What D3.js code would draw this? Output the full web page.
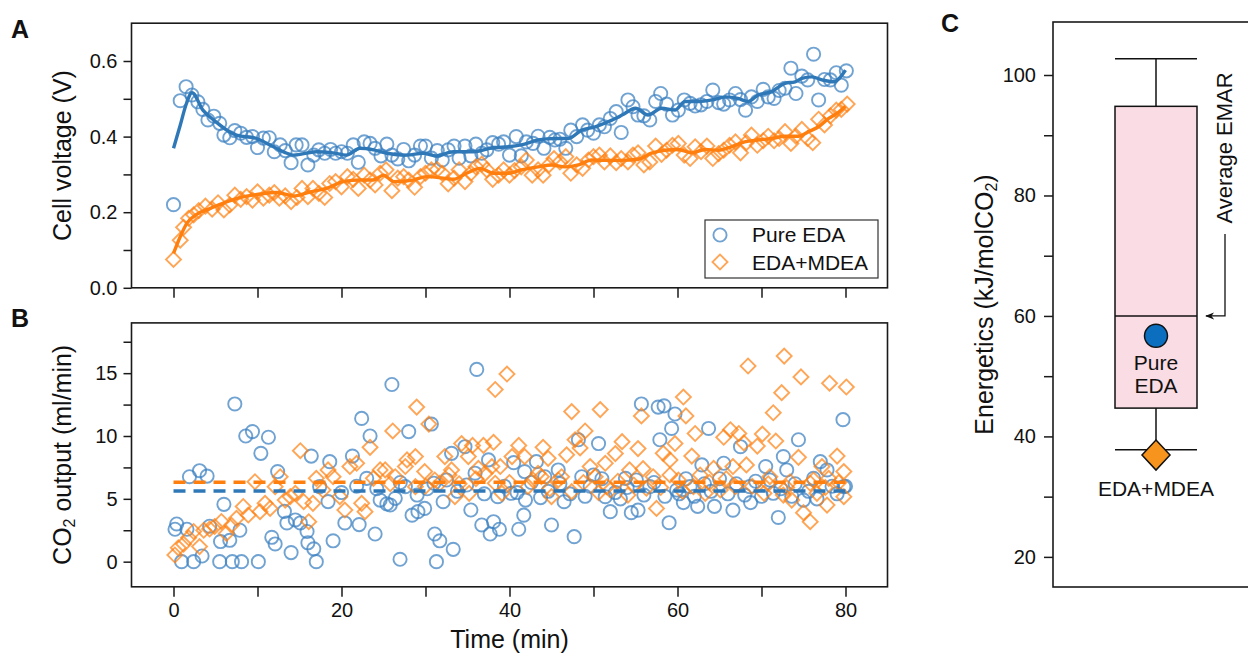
<!DOCTYPE html>
<html><head><meta charset="utf-8">
<script src="https://cdn.jsdelivr.net/npm/d3@7"></script>
<style>body{margin:0;background:#fff}svg{font-family:"Liberation Sans",Arial,sans-serif}</style>
</head><body><svg id="c" width="1248" height="656"></svg>
<script>
// ---------- DATA ----------
const timeTickValues = [0,10,20,30,40,50,60,70,80];
const timeTickLabels = ["0","","20","","40","","60","","80"];
const voltTickValues = [0,0.1,0.2,0.3,0.4,0.5,0.6];
const voltTickLabels = ["0.0","","0.2","","0.4","","0.6"];
const co2TickValues = [0,2.5,5,7.5,10,12.5,15,17.5];
const co2TickLabels = ["0","","5","","10","","15",""];
const energyTickValues = [20,30,40,50,60,70,80,90,100];
const energyTickLabels = ["20","","40","","60","","80","","100"];
const seriesNames = ["Pure EDA","EDA+MDEA"];

// Panel A: cell voltage points [time, V]
const voltEDA = [[0,0.22],[0.8,0.495],[1.5,0.532],[2.2,0.51],[2.9,0.492],[3.5,0.472],[4.1,0.444],[4.8,0.454],[5.5,0.435],[6.0,0.404],[6.7,0.397],[7.3,0.416],[8.0,0.409],[8.7,0.398],[9.4,0.40],[10.0,0.371],[10.7,0.396],[11.4,0.397],[12.0,0.36],[12.7,0.378],[13.3,0.363],[14.0,0.331],[14.6,0.378],[15.3,0.378],[16.0,0.325],[16.7,0.351],[17.3,0.365],[18.0,0.356],[18.7,0.366],[19.3,0.356],[20.0,0.36],[20.7,0.356],[21.4,0.378],[22.0,0.332],[22.7,0.386],[23.4,0.382],[24.0,0.369],[24.7,0.349],[25.4,0.38],[26.0,0.351],[26.7,0.341],[27.4,0.366],[28.0,0.336],[28.7,0.351],[29.4,0.375],[30.0,0.375],[30.7,0.343],[31.4,0.363],[32.0,0.338],[32.7,0.365],[33.4,0.375],[34.0,0.343],[34.7,0.375],[35.4,0.349],[36.0,0.38],[36.7,0.356],[37.3,0.365],[38.0,0.384],[38.7,0.38],[39.3,0.386],[40.0,0.351],[40.8,0.40],[41.4,0.349],[42.0,0.386],[42.8,0.382],[43.4,0.401],[44.1,0.369],[44.8,0.398],[45.4,0.391],[46.0,0.393],[46.7,0.369],[47.3,0.417],[48.0,0.40],[48.7,0.431],[49.3,0.417],[50.0,0.409],[50.7,0.431],[51.3,0.426],[52.0,0.448],[52.7,0.466],[53.3,0.411],[54.1,0.497],[54.7,0.479],[55.3,0.457],[56.0,0.455],[56.7,0.444],[57.4,0.493],[58.0,0.514],[58.7,0.486],[59.4,0.457],[60.1,0.47],[60.8,0.497],[61.5,0.488],[62.1,0.481],[62.8,0.484],[63.5,0.493],[64.2,0.523],[64.9,0.49],[65.5,0.486],[66.2,0.497],[66.9,0.514],[67.5,0.498],[68.1,0.47],[68.8,0.505],[69.5,0.493],[70.2,0.525],[70.8,0.505],[71.5,0.501],[72.1,0.522],[72.8,0.528],[73.5,0.581],[74.1,0.514],[74.8,0.56],[75.5,0.55],[76.2,0.618],[76.8,0.497],[77.5,0.551],[78.2,0.55],[78.9,0.569],[79.5,0.536],[80.1,0.574]];
const voltMDEA = [[0,0.075],[0.8,0.126],[1.2,0.16],[1.8,0.184],[2.4,0.193],[3.0,0.204],[3.8,0.216],[4.6,0.208],[5.3,0.225],[6.0,0.206],[6.7,0.219],[7.3,0.245],[8.0,0.234],[8.7,0.241],[9.4,0.232],[10.0,0.254],[10.7,0.237],[11.4,0.245],[12.0,0.252],[12.6,0.237],[13.3,0.243],[14.0,0.228],[14.7,0.239],[15.3,0.263],[16.0,0.241],[16.6,0.263],[17.3,0.25],[18.0,0.239],[18.6,0.276],[19.3,0.281],[20.0,0.267],[20.7,0.294],[21.4,0.287],[22.0,0.263],[22.7,0.298],[23.4,0.285],[24.0,0.272],[24.6,0.303],[25.3,0.312],[26.0,0.257],[26.7,0.29],[27.4,0.294],[28.0,0.285],[28.7,0.266],[29.4,0.294],[30.0,0.303],[30.7,0.312],[31.4,0.313],[32.0,0.303],[32.7,0.275],[33.4,0.29],[34.0,0.312],[34.7,0.281],[35.4,0.303],[36.0,0.32],[36.7,0.327],[37.3,0.312],[38.0,0.287],[38.7,0.298],[39.3,0.312],[40.0,0.298],[40.6,0.31],[41.4,0.32],[42.0,0.338],[42.7,0.298],[43.4,0.312],[44.0,0.298],[44.7,0.325],[45.3,0.342],[46.0,0.333],[46.7,0.347],[47.3,0.303],[48.0,0.325],[48.7,0.316],[49.4,0.338],[50.0,0.347],[50.7,0.351],[51.3,0.333],[52.0,0.349],[52.7,0.331],[53.3,0.342],[54.1,0.333],[54.7,0.351],[55.3,0.357],[56.0,0.325],[56.7,0.333],[57.4,0.375],[58.1,0.353],[58.7,0.364],[59.4,0.377],[60.1,0.382],[60.8,0.351],[61.5,0.342],[62.1,0.373],[62.8,0.36],[63.5,0.375],[64.2,0.342],[64.9,0.355],[65.5,0.364],[66.2,0.377],[66.9,0.386],[67.5,0.357],[68.2,0.384],[68.8,0.404],[69.5,0.377],[70.2,0.389],[70.8,0.401],[71.5,0.389],[72.1,0.395],[72.8,0.413],[73.5,0.382],[74.1,0.401],[74.8,0.419],[75.5,0.395],[76.1,0.384],[76.8,0.446],[77.5,0.431],[78.2,0.455],[78.9,0.47],[79.5,0.472],[80.2,0.486]];
// Panel A: smoothed trend lines [time, V]
const trendEDA = [[0,0.369],[0.8,0.43],[1.5,0.485],[2.2,0.516],[3.5,0.47],[5,0.44],[6.5,0.415],[7.5,0.404],[9.9,0.395],[11.9,0.373],[13.5,0.356],[14.3,0.351],[17.0,0.36],[19.0,0.357],[20.6,0.351],[22.2,0.369],[23.8,0.365],[25.4,0.356],[27.8,0.351],[29.7,0.356],[31.3,0.349],[33.3,0.36],[35.7,0.36],[38.1,0.371],[39.9,0.373],[41.4,0.378],[43.4,0.391],[45.4,0.395],[47.0,0.395],[48.6,0.417],[50.2,0.426],[51.8,0.44],[53.4,0.457],[55.0,0.475],[56.5,0.457],[58.1,0.475],[59.7,0.47],[60.9,0.493],[62.5,0.493],[64.1,0.497],[65.7,0.505],[67.2,0.501],[68.4,0.493],[69.6,0.51],[71.2,0.519],[72.8,0.541],[74.0,0.545],[74.8,0.554],[76.0,0.558],[77.2,0.55],[78.6,0.545],[80.0,0.576]];
const trendMDEA = [[0,0.091],[0.8,0.135],[1.6,0.171],[2.8,0.195],[4.4,0.21],[6.4,0.228],[8.4,0.241],[10.3,0.248],[12.3,0.252],[14.3,0.243],[16.3,0.254],[18.2,0.263],[20.2,0.281],[22.2,0.285],[23.8,0.285],[25.0,0.298],[26.2,0.281],[28.5,0.285],[30.1,0.294],[32.1,0.29],[33.3,0.287],[34.9,0.303],[36.5,0.316],[38.1,0.303],[39.9,0.303],[41.4,0.312],[43.4,0.32],[45.0,0.325],[46.6,0.32],[48.2,0.325],[49.8,0.338],[51.3,0.337],[53.3,0.337],[55.3,0.34],[56.9,0.356],[58.5,0.364],[60.1,0.366],[61.7,0.357],[63.3,0.366],[64.9,0.364],[66.4,0.373],[68.0,0.386],[69.6,0.391],[71.2,0.395],[72.8,0.401],[74.4,0.401],[75.6,0.413],[76.8,0.426],[78.0,0.448],[79.2,0.465],[80.0,0.48]];

// Panel B: CO2 output points [time, ml/min]
const co2EDA = [[0.18,2.58],[0.38,3.0],[0.97,0],[1.6,2.58],[1.9,6.76],[2.4,0],[3.1,7.24],[3.4,0.45],[4.0,6.81],[4.3,2.82],[5.5,0],[5.6,1.6],[6.0,4.56],[6.7,1.7],[7.0,0],[7.3,12.55],[7.9,2.5],[8.1,0],[8.6,10.0],[9.4,10.35],[10.1,0],[10.4,8.62],[11.3,9.9],[11.7,1.94],[12.1,1.41],[12.4,7.17],[13.2,4.0],[13.5,3.08],[14.0,0.72],[14.5,3.32],[15.1,3.08],[15.9,2.4],[16.0,1.5],[16.4,8.4],[16.7,1.02],[17.0,0],[17.4,5.97],[18.4,4.78],[18.6,7.96],[19.0,1.66],[20.0,5.5],[20.4,3.08],[21.3,8.4],[21.8,6.0],[22.1,2.95],[22.4,11.4],[23.0,6.63],[23.4,10.0],[24.0,2.2],[24.2,5.8],[24.6,4.9],[25.4,4.6],[25.8,4.51],[26.0,14.1],[26.4,5.04],[26.97,0.19],[27.0,6.3],[27.6,5.97],[28.0,10.35],[28.4,3.7],[29.0,5.3],[29.1,3.98],[29.9,4.24],[30.2,5.8],[30.7,10.95],[31.0,6.24],[31.1,2.2],[31.3,0],[31.7,1.66],[32.1,4.77],[32.5,6.5],[33.1,8.62],[33.3,0.98],[33.8,5.6],[34.7,9.15],[34.9,6.1],[35.4,4.11],[35.9,7.04],[36.1,15.3],[36.7,2.92],[37.0,5.4],[37.5,8.1],[37.7,2.2],[38.1,3.18],[38.6,5.17],[38.8,2.58],[39.4,6.0],[40.2,5.44],[40.5,7.88],[40.9,5.5],[41.1,2.58],[41.7,3.7],[41.8,7.17],[41.9,4.9],[42.6,6.3],[43.2,7.96],[43.7,5.1],[44.2,6.76],[44.6,5.6],[45.0,2.92],[45.8,7.3],[46.0,6.2],[46.5,4.77],[47.2,5.4],[47.7,1.99],[48.2,9.7],[48.6,6.76],[49.0,5.2],[49.6,6.0],[50.0,6.9],[50.6,9.4],[51.0,6.6],[51.4,5.17],[52.0,3.98],[52.6,5.5],[53.2,5.0],[53.8,6.63],[54.0,5.9],[54.5,3.9],[55.1,6.5],[55.3,4.1],[55.7,12.55],[56.0,5.3],[56.7,5.97],[57.2,6.3],[57.7,12.3],[57.9,9.7],[58.4,12.4],[58.5,5.2],[59.0,3.1],[59.3,10.6],[59.7,11.75],[59.9,5.7],[60.2,5.4],[60.7,4.7],[61.0,6.6],[61.5,5.97],[62.0,5.2],[62.4,4.4],[62.9,7.7],[63.2,6.2],[63.7,10.6],[64.0,5.6],[64.4,4.4],[65.0,6.6],[65.5,7.83],[66.0,5.4],[66.6,4.1],[67.0,6.2],[67.5,9.15],[68.0,5.3],[68.6,5.97],[68.7,4.7],[69.3,6.4],[70.0,5.2],[70.5,7.57],[71.0,6.5],[71.4,5.44],[72.0,3.52],[72.3,5.8],[72.6,8.36],[73.0,7.3],[73.6,5.2],[74.0,6.2],[74.4,9.7],[75.0,4.9],[75.6,5.6],[76.2,6.63],[76.6,5.0],[77.0,7.96],[77.8,7.3],[78.4,6.0],[79.0,5.4],[79.7,11.3],[79.8,5.97],[80.0,6.0]];
const co2MDEA = [[0.16,0.53],[0.57,1.1],[1.2,1.4],[1.8,1.9],[2.4,2.4],[3.1,1.2],[3.6,2.5],[4.3,2.6],[4.9,2.8],[5.7,3.2],[6.3,2.25],[6.9,2.9],[7.5,3.45],[8.3,4.39],[8.9,3.71],[9.7,6.36],[10.3,3.98],[10.9,4.64],[11.5,4.24],[12.1,5.97],[12.7,6.76],[13.3,4.9],[13.9,5.17],[14.5,5.44],[15.1,8.83],[15.5,4.77],[16.1,3.18],[16.6,4.64],[17.0,6.63],[17.8,5.7],[18.4,7.3],[19.0,6.76],[19.8,5.17],[20.4,4.11],[21.0,7.57],[21.8,7.83],[22.4,4.64],[22.8,3.98],[23.4,9.1],[23.8,6.63],[24.6,7.3],[25.2,7.3],[25.8,6.2],[26.1,10.4],[26.4,6.76],[27.6,7.57],[27.8,8.1],[28.8,8.36],[28.8,5.97],[28.95,12.3],[29.9,7.17],[30.0,6.0],[30.4,10.95],[31.1,6.5],[31.7,6.24],[32.3,8.36],[32.8,6.9],[33.1,7.3],[33.5,5.17],[34.0,6.2],[34.3,9.4],[35.1,8.36],[35.2,5.44],[35.6,9.25],[36.0,6.6],[36.3,7.43],[36.9,9.25],[37.1,7.03],[37.9,7.57],[38.1,9.5],[38.3,13.7],[38.3,6.24],[38.9,7.57],[39.1,5.44],[39.7,14.93],[40.0,6.3],[40.3,8.36],[41.1,9.25],[41.8,8.36],[42.2,5.97],[42.8,6.5],[43.4,7.03],[43.8,6.76],[44.0,9.1],[44.6,8.22],[44.8,5.8],[45.0,5.17],[45.8,6.5],[46.2,6.76],[46.8,8.5],[47.4,11.94],[47.4,5.57],[47.8,9.7],[48.4,9.05],[48.8,6.3],[49.0,10.4],[49.6,7.57],[50.2,6.76],[50.6,5.5],[50.8,12.1],[51.4,7.83],[51.6,5.97],[52.0,5.7],[52.6,8.6],[52.9,6.4],[53.4,9.55],[54.1,5.3],[54.3,7.3],[54.8,6.1],[55.3,9.0],[55.7,11.6],[55.9,7.4],[56.3,5.84],[57.1,6.76],[57.5,4.24],[58.0,5.9],[58.3,8.62],[59.1,8.1],[59.1,6.9],[59.7,9.4],[60.1,6.5],[60.6,5.6],[60.7,13.1],[61.0,11.6],[61.7,8.4],[61.9,5.97],[62.1,10.2],[62.7,6.9],[63.3,5.44],[63.8,6.3],[64.3,7.43],[65.1,5.7],[65.5,9.9],[65.8,6.6],[66.3,10.5],[66.6,7.57],[66.9,5.97],[67.3,10.2],[67.9,9.45],[68.2,7.7],[68.4,15.57],[68.9,6.0],[69.5,9.2],[70.1,10.15],[70.3,5.44],[70.8,6.2],[71.0,6.76],[71.4,11.85],[71.7,9.6],[72.4,13.45],[72.6,5.3],[72.7,16.36],[73.0,5.9],[73.4,6.36],[73.6,4.9],[74.4,8.3],[74.7,14.7],[75.0,3.9],[75.8,6.24],[75.8,3.18],[76.2,6.5],[76.6,5.44],[77.2,7.57],[77.6,5.9],[77.8,4.5],[78.0,6.63],[78.1,14.2],[79.0,8.4],[79.2,6.3],[79.8,7.17],[79.8,5.17],[80.1,13.9]];
// Panel B: average CO2 output (dashed lines)
const co2Mean = [5.62, 6.32];

// Panel C: energetics box (kJ/molCO2)
const boxStats = {whiskerLow: 37.8, q1: 44.7, median: 60, q3: 94.8, whiskerHigh: 102.7};
const energyEDA = 56.7;
const energyMDEA = 36.9;

// ---------- DRAWING ----------
const blue = "#3a7fc1", orange = "#ff7f0e";
const svg = d3.select("#c");
const frameColor = "#1a1a1a";

const x = d3.scaleLinear().domain([-5,85]).range([131.5,887.5]);
const yA = d3.scaleLinear().domain([0,0.7]).range([287.8,23.2]);
const yB = d3.scaleLinear().domain([-2,19]).range([586.8,322.9]);
const yC = d3.scaleLinear().domain([15,108.8]).range([587,22]);

function frame(xs, ys){
  svg.append("rect").attr("x",xs.range()[0]).attr("y",ys.range()[1])
    .attr("width",xs.range()[1]-xs.range()[0]).attr("height",ys.range()[0]-ys.range()[1])
    .attr("fill","none").attr("stroke",frameColor).attr("stroke-width",1.6);
}
function styleAxis(g){
  g.select(".domain").remove();
  g.selectAll(".tick line").attr("stroke",frameColor).attr("stroke-width",1.5);
  g.selectAll(".tick text").attr("fill","#111").style("font-size","20px").style("font-family","'Liberation Sans',Arial,sans-serif");
}
const lab = (vals, labels) => d => labels[vals.indexOf(d)];

// Panel A
const gA = svg.append("g");
gA.append("g").attr("transform",`translate(0,${yA.range()[0]})`)
  .call(d3.axisBottom(x).tickValues(timeTickValues).tickFormat("").tickSize(10)).call(styleAxis);
gA.append("g").attr("transform",`translate(${x.range()[0]},0)`)
  .call(d3.axisLeft(yA).tickValues(voltTickValues).tickFormat(lab(voltTickValues,voltTickLabels)).tickSize(8).tickPadding(6)).call(styleAxis);

const sq = d3.symbol(d3.symbolSquare, 112)();
function circles(g, data, xs, ys){
  g.selectAll(null).data(data).join("circle").attr("cx",d=>xs(d[0])).attr("cy",d=>ys(d[1])).attr("r",6.6)
    .attr("fill","none").attr("stroke",blue).attr("stroke-width",1.9).attr("stroke-opacity",0.72);
}
function diamonds(g, data, xs, ys){
  g.selectAll(null).data(data).join("path").attr("d",sq)
    .attr("transform",d=>`translate(${xs(d[0])},${ys(d[1])}) rotate(45)`)
    .attr("fill","none").attr("stroke",orange).attr("stroke-width",1.9).attr("stroke-opacity",0.7);
}
circles(gA, voltEDA, x, yA);
diamonds(gA, voltMDEA, x, yA);
const lineA = d3.line().x(d=>x(d[0])).y(d=>yA(d[1])).curve(d3.curveMonotoneX);
gA.append("path").datum(trendEDA).attr("d",lineA).attr("fill","none").attr("stroke","#2f78b8").attr("stroke-width",3.4);
gA.append("path").datum(trendMDEA).attr("d",lineA).attr("fill","none").attr("stroke",orange).attr("stroke-width",3.4);
frame(x, yA);

// legend
const lg = gA.append("g").attr("transform","translate(705,220)");
lg.append("rect").attr("width",173).attr("height",58).attr("fill","#fff").attr("stroke","#333").attr("stroke-width",1.2);
lg.append("circle").attr("cx",15).attr("cy",15).attr("r",6.6).attr("fill","none").attr("stroke",blue).attr("stroke-width",1.9).attr("stroke-opacity",0.72);
lg.append("path").attr("d",sq).attr("transform","translate(15,42) rotate(45)").attr("fill","none").attr("stroke",orange).attr("stroke-width",1.9).attr("stroke-opacity",0.7);
lg.append("text").attr("x",47).attr("y",22).text(seriesNames[0]).style("font-size","21px").attr("fill","#111");
lg.append("text").attr("x",47).attr("y",50).text(seriesNames[1]).style("font-size","21px").attr("fill","#111");

// Panel B
const gB = svg.append("g");
gB.append("g").attr("transform",`translate(0,${yB.range()[0]})`)
  .call(d3.axisBottom(x).tickValues(timeTickValues).tickFormat(lab(timeTickValues,timeTickLabels)).tickSize(10).tickPadding(6)).call(styleAxis);
gB.append("g").attr("transform",`translate(${x.range()[0]},0)`)
  .call(d3.axisLeft(yB).tickValues(co2TickValues).tickFormat(lab(co2TickValues,co2TickLabels)).tickSize(8).tickPadding(6)).call(styleAxis);
circles(gB, co2EDA, x, yB);
diamonds(gB, co2MDEA, x, yB);
gB.append("line").attr("x1",x(0)).attr("x2",x(80)).attr("y1",yB(co2Mean[0])).attr("y2",yB(co2Mean[0]))
  .attr("stroke","#2f78b8").attr("stroke-width",3.5).attr("stroke-dasharray","12,8");
gB.append("line").attr("x1",x(0)).attr("x2",x(80)).attr("y1",yB(co2Mean[1])).attr("y2",yB(co2Mean[1]))
  .attr("stroke",orange).attr("stroke-width",3.5).attr("stroke-dasharray","12,8");
frame(x, yB);

// Titles
const tFont = "25px";
svg.append("text").attr("transform",`translate(71,${(yA.range()[0]+yA.range()[1])/2}) rotate(-90)`).attr("text-anchor","middle")
  .style("font-size",tFont).attr("fill","#111").text("Cell voltage (V)");
svg.append("text").attr("transform",`translate(71,${(yB.range()[0]+yB.range()[1])/2}) rotate(-90)`).attr("text-anchor","middle")
  .style("font-size",tFont).attr("fill","#111").html('CO<tspan dy="4" font-size="16px">2</tspan><tspan dy="-4"> output (ml/min)</tspan>');
svg.append("text").attr("x",(x.range()[0]+x.range()[1])/2).attr("y",648).attr("text-anchor","middle")
  .style("font-size",tFont).attr("fill","#111").text("Time (min)");

// Panel letters
[["A",11,38],["B",11,327],["C",941,32]].forEach(([t,px,py])=>{
  svg.append("text").attr("x",px).attr("y",py).text(t).style("font-size","25px").style("font-weight","bold").attr("fill","#111");
});

// Panel C
const cx0 = 1053, cCenter = 1156, bw = 82;
const gC = svg.append("g");
gC.append("g").attr("transform",`translate(${cx0},0)`)
  .call(d3.axisLeft(yC).tickValues(energyTickValues).tickFormat(lab(energyTickValues,energyTickLabels)).tickSize(9).tickPadding(8)).call(styleAxis);
gC.append("rect").attr("x",cx0).attr("y",yC.range()[1]).attr("width",260).attr("height",yC.range()[0]-yC.range()[1])
  .attr("fill","none").attr("stroke",frameColor).attr("stroke-width",1.6);
const bl = cCenter-bw/2, br = cCenter+bw/2;
gC.append("line").attr("x1",cCenter).attr("x2",cCenter).attr("y1",yC(boxStats.q3)).attr("y2",yC(boxStats.whiskerHigh)).attr("stroke","#111").attr("stroke-width",1.5);
gC.append("line").attr("x1",cCenter).attr("x2",cCenter).attr("y1",yC(boxStats.q1)).attr("y2",yC(boxStats.whiskerLow)).attr("stroke","#111").attr("stroke-width",1.5);
gC.append("line").attr("x1",bl).attr("x2",br).attr("y1",yC(boxStats.whiskerHigh)).attr("y2",yC(boxStats.whiskerHigh)).attr("stroke","#111").attr("stroke-width",1.5);
gC.append("line").attr("x1",bl).attr("x2",br).attr("y1",yC(boxStats.whiskerLow)).attr("y2",yC(boxStats.whiskerLow)).attr("stroke","#111").attr("stroke-width",1.5);
gC.append("rect").attr("x",bl).attr("y",yC(boxStats.q3)).attr("width",bw).attr("height",yC(boxStats.q1)-yC(boxStats.q3))
  .attr("fill","#fadce4").attr("stroke","#111").attr("stroke-width",1.5);
gC.append("line").attr("x1",bl).attr("x2",br).attr("y1",yC(boxStats.median)).attr("y2",yC(boxStats.median)).attr("stroke","#111").attr("stroke-width",1.5);
gC.append("circle").attr("cx",cCenter).attr("cy",yC(energyEDA)).attr("r",11.5).attr("fill","#0b6ebf").attr("stroke","#111").attr("stroke-width",1.5);
gC.append("path").attr("d","M0,-15L14,0L0,15L-14,0Z").attr("transform",`translate(${cCenter},${yC(energyMDEA)})`)
  .attr("fill","#f7941d").attr("stroke","#111").attr("stroke-width",1.5);
gC.append("text").attr("x",cCenter).attr("y",yC(energyEDA)+34).attr("text-anchor","middle").style("font-size","21px").attr("fill","#111").text("Pure");
gC.append("text").attr("x",cCenter).attr("y",yC(energyEDA)+57).attr("text-anchor","middle").style("font-size","21px").attr("fill","#111").text("EDA");
gC.append("text").attr("x",cCenter).attr("y",yC(energyMDEA)+41).attr("text-anchor","middle").style("font-size","21px").attr("fill","#111").text("EDA+MDEA");
// Average EMAR annotation
gC.append("text").attr("transform",`translate(1232,148) rotate(-90)`).attr("text-anchor","middle").style("font-size","22px").attr("fill","#111").text("Average EMAR");
svg.append("defs").append("marker").attr("id","ah").attr("viewBox","0 0 10 10").attr("refX",9).attr("refY",5)
  .attr("markerWidth",7).attr("markerHeight",7).attr("orient","auto")
  .append("path").attr("d","M0,1L10,5L0,9L3,5Z").attr("fill","#111");
gC.append("path").attr("d",`M1225,234V${yC(boxStats.median)}H1206`).attr("fill","none").attr("stroke","#111").attr("stroke-width",1.3).attr("marker-end","url(#ah)");
svg.append("text").attr("transform",`translate(993,${(yC.range()[0]+yC.range()[1])/2}) rotate(-90)`).attr("text-anchor","middle")
  .style("font-size",tFont).attr("fill","#111").html('Energetics (kJ/molCO<tspan dy="4" font-size="16px">2</tspan><tspan dy="-4">)</tspan>');
</script></body></html>
